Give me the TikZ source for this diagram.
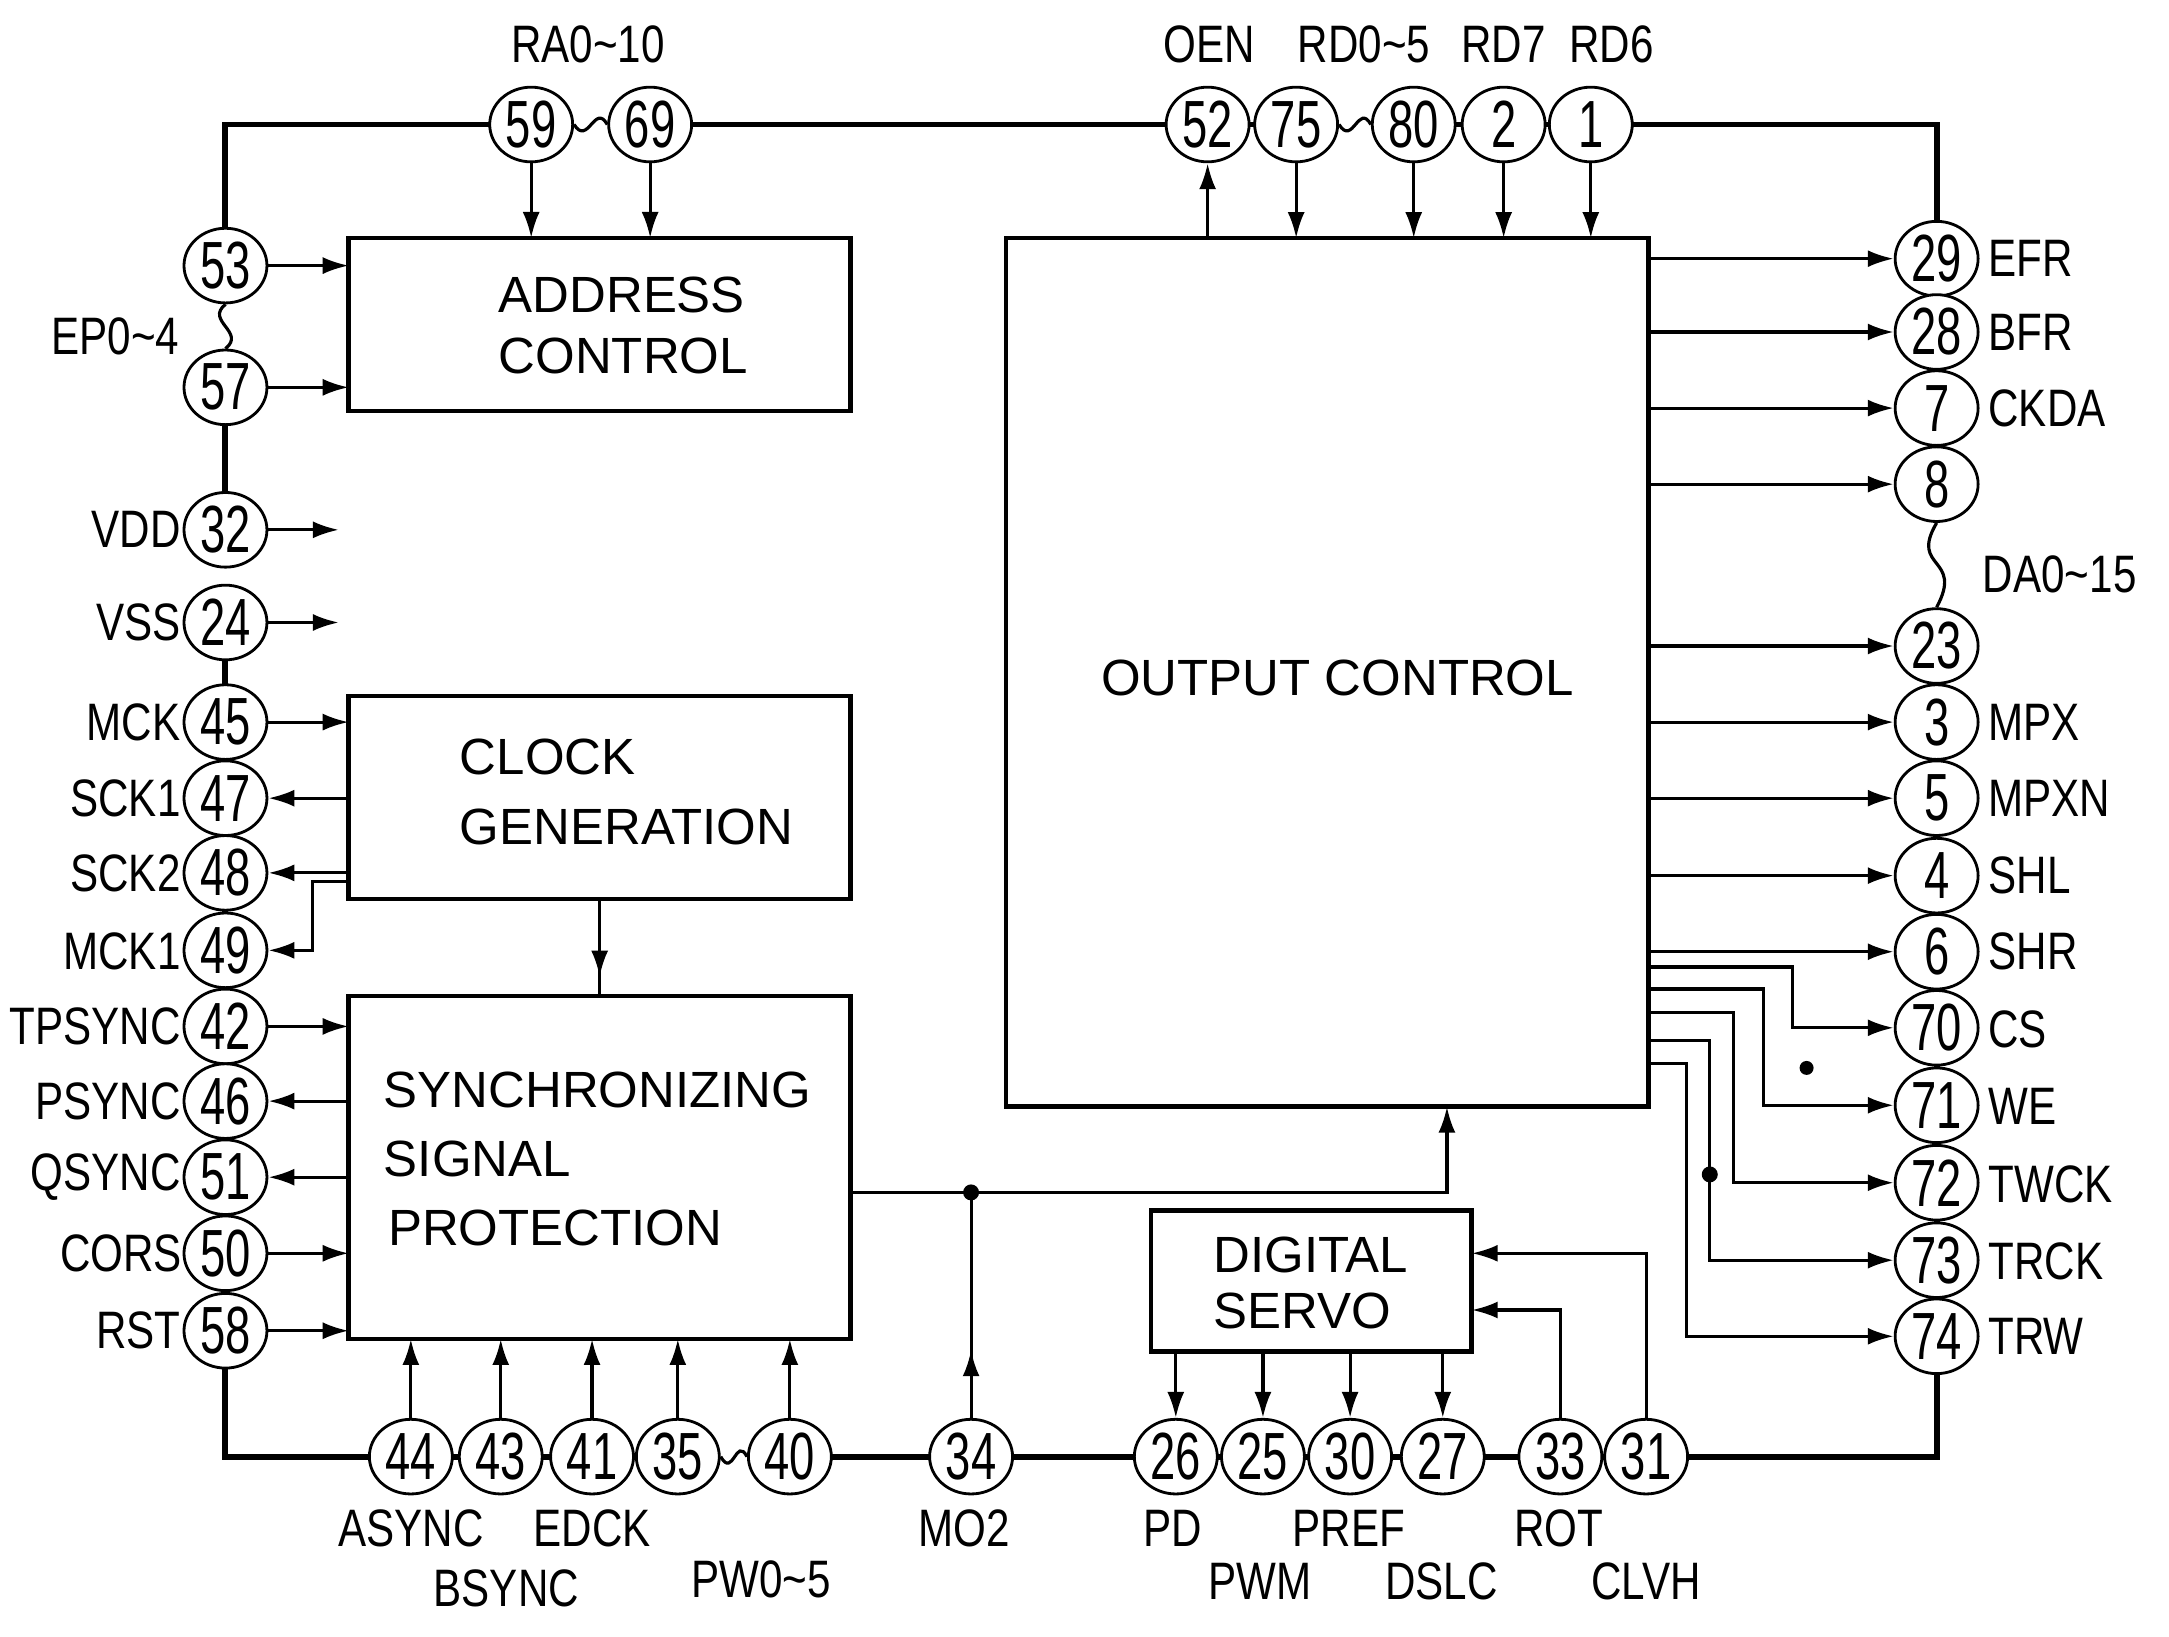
\documentclass[tikz,border=0pt]{standalone}
\usepackage{fontspec}
\setmainfont{Liberation Sans}
\newfontfamily\pinfont[FakeStretch=0.8]{Liberation Sans}
\newfontfamily\numfont[FakeStretch=0.68]{Liberation Sans}
\usetikzlibrary{arrows.meta,shapes.geometric,backgrounds,decorations.markings}
\begin{document}
\begin{tikzpicture}[x=0.013833cm,y=-0.013833cm,
  pin/.style={ellipse, draw, line width=0.8pt, fill=white, minimum width=0.83cm, minimum height=0.747cm, inner sep=0pt, font=\numfont\fontsize{19}{19}\selectfont},
  blk/.style={draw, line width=1.3pt, inner sep=0pt, outer sep=0pt},
  lbl/.style={inner sep=0pt, font=\pinfont\fontsize{15}{15}\selectfont},
  btxt/.style={inner sep=0pt, font=\fontsize{14.5}{15}\selectfont},
  frame/.style={line width=1.7pt},
  sig/.style={line width=0.9pt},
  arr/.style={sig, -{Latex[length=2.6mm,width=1.7mm]}},
  midarrow/.style={postaction={decorate}, decoration={markings, mark=at position #1 with {\arrow{Latex[length=2.6mm,width=1.7mm]}}}},
  dot/.style={circle, fill, inner sep=0pt, minimum size=1.6mm}]
\useasboundingbox (0,0) rectangle (1568,1183);

% ---------- blocks ----------
\node[blk, minimum width=5.021cm, minimum height=1.729cm] (addr) at (433.5,234.5) {};
\node[blk, minimum width=5.021cm, minimum height=2.033cm] (clk) at (433.5,576.5) {};
\node[blk, minimum width=5.021cm, minimum height=3.431cm] (sync) at (433.5,844) {};
\node[blk, minimum width=6.432cm, minimum height=8.687cm] (out) at (959.5,486) {};
\node[blk, minimum width=3.209cm, minimum height=1.411cm] (servo) at (948,926) {};

\node[btxt, anchor=west] (ta1) at (360,213) {ADDRESS};
\node[btxt, anchor=west] (ta2) at (360,257) {CONTROL};
\node[btxt, anchor=west] (tc1) at (332,547) {CLOCK};
\node[btxt, anchor=west] (tc2) at (332,598) {GENERATION};
\node[btxt, anchor=west] (ts1) at (277,788) {SYNCHRONIZING};
\node[btxt, anchor=west] (ts2) at (277,838) {SIGNAL};
\node[btxt, anchor=west] (ts3) at (280,888) {PROTECTION};
\node[btxt] (to1) at (967,490) {OUTPUT CONTROL};
\node[btxt, anchor=west] (tv1) at (877,907) {DIGITAL};
\node[btxt, anchor=west] (tv2) at (877,948) {SERVO};

% ---------- pins: top ----------
\node[pin] (p59) at (384,90) {59};
\node[pin] (p69) at (470,90) {69};
\node[pin] (p52) at (873,90) {52};
\node[pin] (p75) at (937,90) {75};
\node[pin] (p80) at (1022,90) {80};
\node[pin] (p2) at (1087,90) {2};
\node[pin] (p1) at (1150,90) {1};
% left
\node[pin] (p53) at (163,192) {53};
\node[pin] (p57) at (163,280) {57};
\node[pin] (p32) at (163,383) {32};
\node[pin] (p24) at (163,450) {24};
\node[pin] (p45) at (163,522) {45};
\node[pin] (p47) at (163,577) {47};
\node[pin] (p48) at (163,631) {48};
\node[pin] (p49) at (163,687) {49};
\node[pin] (p42) at (163,742) {42};
\node[pin] (p46) at (163,796) {46};
\node[pin] (p51) at (163,851) {51};
\node[pin] (p50) at (163,906) {50};
\node[pin] (p58) at (163,962) {58};
% right
\node[pin] (p29) at (1400,187) {29};
\node[pin] (p28) at (1400,240) {28};
\node[pin] (p7) at (1400,295) {7};
\node[pin] (p8) at (1400,350) {8};
\node[pin] (p23) at (1400,467) {23};
\node[pin] (p3) at (1400,522) {3};
\node[pin] (p5) at (1400,577) {5};
\node[pin] (p4) at (1400,633) {4};
\node[pin] (p6) at (1400,688) {6};
\node[pin] (p70) at (1400,743) {70};
\node[pin] (p71) at (1400,799) {71};
\node[pin] (p72) at (1400,855) {72};
\node[pin] (p73) at (1400,911) {73};
\node[pin] (p74) at (1400,966) {74};
% bottom
\node[pin] (p44) at (297,1053) {44};
\node[pin] (p43) at (362,1053) {43};
\node[pin] (p41) at (428,1053) {41};
\node[pin] (p35) at (490,1053) {35};
\node[pin] (p40) at (571,1053) {40};
\node[pin] (p34) at (702,1053) {34};
\node[pin] (p26) at (850,1053) {26};
\node[pin] (p25) at (913,1053) {25};
\node[pin] (p30) at (976,1053) {30};
\node[pin] (p27) at (1043,1053) {27};
\node[pin] (p33) at (1128,1053) {33};
\node[pin] (p31) at (1190,1053) {31};

% ---------- labels ----------
\node[lbl] (lRA) at (425,32) {RA0\textasciitilde10};
\node[lbl] (lOEN) at (874,32) {OEN};
\node[lbl] (lRD) at (986,32) {RD0\textasciitilde5};
\node[lbl] (lRD7) at (1087,32) {RD7};
\node[lbl] (lRD6) at (1165,32) {RD6};

\node[lbl, anchor=east] (lEP) at (130,243) {EP0\textasciitilde4};
\node[lbl, anchor=east] (lVDD) at (131,383) {VDD};
\node[lbl, anchor=east] (lVSS) at (131,450) {VSS};
\node[lbl, anchor=east] (lMCK) at (131,522) {MCK};
\node[lbl, anchor=east] (lSCK1) at (131,577) {SCK1};
\node[lbl, anchor=east] (lSCK2) at (131,631) {SCK2};
\node[lbl, anchor=east] (lMCK1) at (131,688) {MCK1};
\node[lbl, anchor=east] (lTPS) at (131,742) {TPSYNC};
\node[lbl, anchor=east] (lPS) at (131,796) {PSYNC};
\node[lbl, anchor=east] (lQS) at (131,851) {QSYNC};
\node[lbl, anchor=east] (lCORS) at (132,906) {CORS};
\node[lbl, anchor=east] (lRST) at (131,962) {RST};

\node[lbl, anchor=west] (lEFR) at (1437,187) {EFR};
\node[lbl, anchor=west] (lBFR) at (1437,240) {BFR};
\node[lbl, anchor=west] (lCKDA) at (1437,295) {CKDA};
\node[lbl, anchor=west] (lDA) at (1433,415) {DA0\textasciitilde15};
\node[lbl, anchor=west] (lMPX) at (1437,522) {MPX};
\node[lbl, anchor=west] (lMPXN) at (1437,577) {MPXN};
\node[lbl, anchor=west] (lSHL) at (1437,633) {SHL};
\node[lbl, anchor=west] (lSHR) at (1437,688) {SHR};
\node[lbl, anchor=west] (lCS) at (1437,744) {CS};
\node[lbl, anchor=west] (lWE) at (1437,800) {WE};
\node[lbl, anchor=west] (lTWCK) at (1437,856) {TWCK};
\node[lbl, anchor=west] (lTRCK) at (1437,912) {TRCK};
\node[lbl, anchor=west] (lTRW) at (1437,966) {TRW};

\node[lbl] (lAS) at (297,1105) {ASYNC};
\node[lbl] (lBS) at (366,1148) {BSYNC};
\node[lbl] (lED) at (428,1105) {EDCK};
\node[lbl] (lPW) at (550,1142) {PW0\textasciitilde5};
\node[lbl] (lMO) at (697,1105) {MO2};
\node[lbl] (lPD) at (848,1105) {PD};
\node[lbl] (lPWM) at (911,1143) {PWM};
\node[lbl] (lPREF) at (975,1105) {PREF};
\node[lbl] (lDSLC) at (1042,1143) {DSLC};
\node[lbl] (lROT) at (1127,1105) {ROT};
\node[lbl] (lCLVH) at (1190,1143) {CLVH};

% ---------- coordinates ----------
\coordinate (v32) at (245,383);
\coordinate (v24) at (245,450);
\coordinate (k49) at (226,637);
\coordinate (jn) at (702,862);
\coordinate (oin) at (1046,800);
\coordinate (c70) at (1296,699);
\coordinate (c71) at (1275,715);
\coordinate (c72) at (1253,732);
\coordinate (c73) at (1236,752);
\coordinate (c74) at (1219,769);

\begin{scope}[on background layer]
% outer frame
\draw[frame] (p53.center) |- (p59.center);
\draw[frame] (p69.center) -- (p52.center) -- (p75.center);
\draw[frame] (p80.center) -- (p1.center) -| (p8.center);
\draw[frame] (p23.center) -- (p74.center) |- (p40.center);
\draw[frame] (p35.center) -- (p44.center) -| (p24.center);
\draw[frame] (p32.center) -- (p57.center);
% tilde links
\draw[sig] (p59.east) .. controls (425,106) and (430,74) .. (p69.west);
\draw[sig] (p75.east) .. controls (978,106) and (982,74) .. (p80.west);
\draw[sig] (p35.east) .. controls (530,1069) and (532,1038) .. (p40.west);
\draw[sig] (p53.south) .. controls (148,232) and (178,240) .. (p57.north);
\draw[sig] (p8.south) .. controls (1380,412) and (1420,402) .. (p23.north);
\end{scope}

% ---------- connectors ----------
\draw[arr] (p59.south) -- (p59.south |- addr.north);
\draw[arr] (p69.south) -- (p69.south |- addr.north);
\draw[arr] (p53.east) -- (p53.east -| addr.west);
\draw[arr] (p57.east) -- (p57.east -| addr.west);
\draw[arr] (p32.east) -- (v32);
\draw[arr] (p24.east) -- (v24);
\draw[arr] (p45.east) -- (p45.east -| clk.west);
\draw[arr] (p47.east -| clk.west) -- (p47.east);
\draw[arr] (p48.east -| clk.west) -- (p48.east);
\draw[arr] (clk.west |- k49) -- (k49) |- (p49.east);
\draw[sig, midarrow=0.8] (clk.south) -- (sync.north);
\draw[arr] (p42.east) -- (p42.east -| sync.west);
\draw[arr] (p46.east -| sync.west) -- (p46.east);
\draw[arr] (p51.east -| sync.west) -- (p51.east);
\draw[arr] (p50.east) -- (p50.east -| sync.west);
\draw[arr] (p58.east) -- (p58.east -| sync.west);
\draw[arr] (p44.north) -- (p44.north |- sync.south);
\draw[arr] (p43.north) -- (p43.north |- sync.south);
\draw[arr] (p41.north) -- (p41.north |- sync.south);
\draw[arr] (p35.north) -- (p35.north |- sync.south);
\draw[arr] (p40.north) -- (p40.north |- sync.south);
\draw[sig, midarrow=0.3] (p34.north) -- (jn);
\draw[arr] (sync.east |- jn) -- (jn) -| (oin);
\node[dot] (djn) at (jn) {};

\draw[arr] (p52.south |- out.north) -- (p52.south);
\draw[arr] (p75.south) -- (p75.south |- out.north);
\draw[arr] (p80.south) -- (p80.south |- out.north);
\draw[arr] (p2.south) -- (p2.south |- out.north);
\draw[arr] (p1.south) -- (p1.south |- out.north);

\foreach \p in {29,28,7,8,23,3,5,4,6}
  \draw[arr] (p\p.west -| out.east) -- (p\p.west);
\foreach \p in {70,71,72,73,74}
  \draw[arr] (out.east |- c\p) -- (c\p) |- (p\p.west);
\node[dot] (d73) at (1236,849) {};
\node[dot, minimum size=1.4mm] (spk) at (1306,772) {};

\draw[arr] (p26.north |- servo.south) -- (p26.north);
\draw[arr] (p25.north |- servo.south) -- (p25.north);
\draw[arr] (p30.north |- servo.south) -- (p30.north);
\draw[arr] (p27.north |- servo.south) -- (p27.north);
\draw[arr] (p33.north) |- (servo.east |- 0,947);
\draw[arr] (p31.north) |- (servo.east |- 0,906);
\end{tikzpicture}
\end{document}
